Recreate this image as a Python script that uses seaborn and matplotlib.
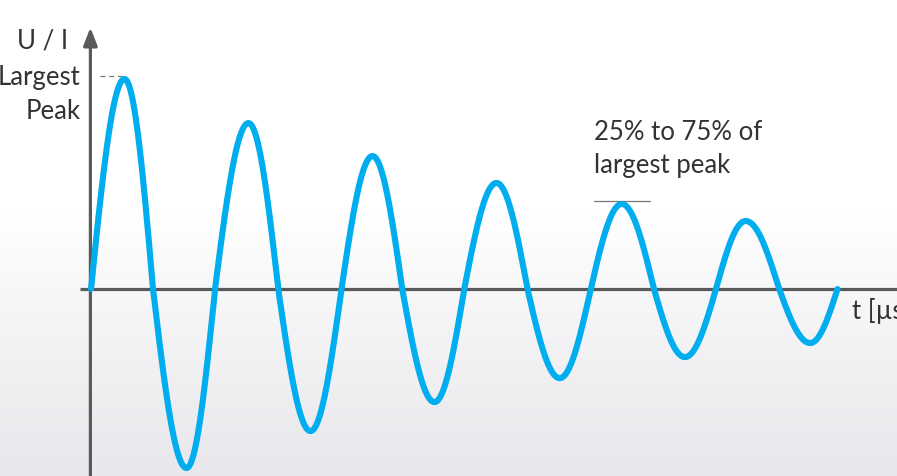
import numpy as np
import pandas as pd
import matplotlib
matplotlib.use("Agg")
import matplotlib.pyplot as plt
import seaborn as sns

# extrema and zero crossings of the ring wave
# time in microseconds, amplitude relative to the largest peak
t_knots = [0.0, 2.7, 5.0, 7.7, 10.0, 12.7, 15.1, 17.7, 20.2, 22.7, 25.1, 27.7,
           30.1, 32.7, 35.2, 37.8, 40.3, 42.8, 45.4, 47.9, 50.4, 52.8, 55.5, 58.0, 60.2]
u_knots = [0.0, 1.0, 0.0, -0.852, 0.0, 0.790, 0.0, -0.676, 0.0, 0.633, 0.0, -0.538,
           0.0, 0.505, 0.0, -0.424, 0.0, 0.405, 0.0, -0.324, 0.0, 0.324, 0.0, -0.257, 0.0]

largest_peak = 1.0
band_level = 0.419   # marker line over the 5th peak
band_t = (40.6, 45.1)

# smooth quarter-wave segments between the knots
ts, us = [], []
for i in range(len(t_knots) - 1):
    a, b = t_knots[i], t_knots[i + 1]
    ya, yb = u_knots[i], u_knots[i + 1]
    s = np.linspace(0, 1, 40, endpoint=False)
    if ya == 0:
        seg = yb * np.sin(np.pi / 2 * s)
    else:
        seg = ya * np.cos(np.pi / 2 * s)
    ts.extend(a + (b - a) * s)
    us.extend(seg)
ts.append(t_knots[-1])
us.append(u_knots[-1])
df = pd.DataFrame({"t": ts, "u": us})

sns.set_theme(style="white")
plt.rcParams["font.family"] = ["Lato", "DejaVu Sans"]

fig = plt.figure(figsize=(8.97, 4.76), dpi=100)
ax = fig.add_axes([0, 0, 1, 1])
xlim = (-7.34, 65.0)
ylim = (-0.890, 1.376)
ax.axis("off")

# soft grey gradient towards the bottom (row 0 = bottom)
g = np.linspace(1, 0, 256)
g = np.clip((g - 0.45) / 0.55, 0, 1) ** 0.9
top = np.array([1.0, 1.0, 1.0])
bot = np.array([232, 232, 236]) / 255
img = top[None, :] * (1 - g[:, None]) + bot[None, :] * g[:, None]
img = np.repeat(img[:, None, :], 2, axis=1)
ax.imshow(img, extent=[xlim[0], xlim[1], ylim[0], ylim[1]], aspect="auto",
          zorder=0, origin="lower")
ax.set_xlim(*xlim)
ax.set_ylim(*ylim)

axis_col = "#5a5a5a"
# horizontal axis
ax.plot([-0.89, xlim[1]], [0, 0], color=axis_col, lw=2.3, zorder=2,
        solid_capstyle="butt")
# vertical axis with arrow
ax.annotate("", xy=(-0.05, 1.245), xytext=(-0.05, ylim[0] - 0.05),
            arrowprops=dict(arrowstyle="-|>,head_length=0.9,head_width=0.35",
                            color=axis_col, lw=2.3, shrinkA=0, shrinkB=0),
            zorder=2)

sns.lineplot(data=df, x="t", y="u", ax=ax, color="#00aeef", lw=4.4,
             zorder=3, sort=False, estimator=None)
ax.lines[-1].set_solid_capstyle("round")

# largest peak dashed marker and 25-75% marker
ax.plot([0.73, 2.5], [1.014, 1.014], color="#777777", lw=0.9, ls=(0, (4, 3)), zorder=2)
ax.plot(list(band_t), [band_level, band_level], color="#777777", lw=0.9, zorder=2)

txt = dict(color="#333333", fontsize=18.5)
ax.text(-1.85, 1.183, "U / I", ha="right", va="center", **txt)
ax.text(-0.85, 1.005, "Largest", ha="right", va="center", **txt)
ax.text(-0.85, 0.843, "Peak", ha="right", va="center", **txt)
ax.text(40.6, 0.746, "25% to 75% of", ha="left", va="center", **txt)
ax.text(40.6, 0.59, "largest peak", ha="left", va="center", **txt)
ax.text(61.4, -0.105, "t [µs]", ha="left", va="center", **txt)

fig.savefig("out.png", dpi=100)
